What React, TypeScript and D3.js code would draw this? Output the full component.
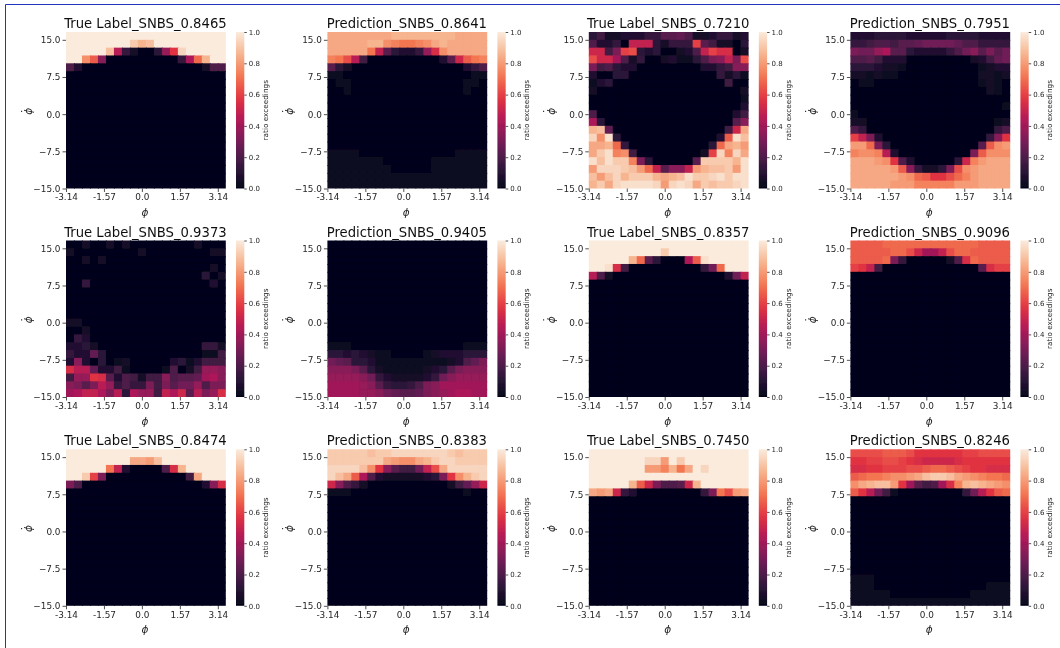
import React, { useRef, useEffect } from 'react';
import * as d3 from 'd3';

// each string is one row of the heatmap (top row first), one character per column,
// base 36: "0" = 0.0 ... "z" = 1.0
const labelA = [
  "zzzzzzzzzzzzzzzzzzzz",
  "zzzzzzzzwuvzzzzzzzzz",
  "zzzzzvg52004dkxzzzzz",
  "zzrnc0000000005fouzz",
  "73000000000000000277",
  "00000000000000000000", "00000000000000000000", "00000000000000000000", "00000000000000000000", "00000000000000000000",
  "00000000000000000000", "00000000000000000000", "00000000000000000000", "00000000000000000000", "00000000000000000000",
  "00000000000000000000", "00000000000000000000", "00000000000000000000", "00000000000000000000", "00000000000000000000",
];
const predA = [
  "ttttttttuuuuuuuutttt",
  "tttttuurqppqrtuttttt",
  "tttttph84335djrttttt",
  "qpmg600000000038inpq",
  "84200000000000000357",
  "11000000000000000011",
  "01100000000000000110",
  "00100000000000000100",
  "00000000000000000000",
  "00000000000000000000",
  "00000000000000000000",
  "00000000000000000000",
  "00000000000000000000",
  "00000000000000000000",
  "00000000000000000000",
  "11110000000000001111",
  "11111110000001111111",
  "11111111000001111111",
  "11111111111111111111",
  "11111111111111111111",
];
const labelB = [
  "46223335588972235523",
  "73350hhh42555l862204",
  "ii6blm43400237hljj02",
  "miie72500231147bchbm",
  "b67433000000003356cc",
  "30044000000000005241",
  "13400000000000000600",
  "20000000000000000002",
  "00000000000000000001",
  "00000000000000000003",
  "70000000000000000036",
  "f400000000000000008c",
  "uv9000000000000006it",
  "xry40000000000003nyv",
  "ttuo500000000004otus",
  "twyqr6000000002lxqxt",
  "yvywwqb4000008wwwwuy",
  "sxxxwvsoh8cchsuvvwsy",
  "vsvxuwwwutuvywwxywyy",
  "uwtxyyyyxsxyxtwvwwxy",
];
const predB = [
  "33344443333344443333",
  "556776889aaaa9775555",
  "baadf884333357ac8b8a",
  "7786333000000002369a",
  "44432210000000001233",
  "22121100000000002212",
  "01100000000000001210",
  "00000000000000000210",
  "00000000000000000000",
  "00000000000000000001",
  "10000000000000000000",
  "22000000000000000012",
  "75000000000000000057",
  "lhb300000000000005ck",
  "ssob4000000000008nrs",
  "qrrqg3000000000bnrrr",
  "tttsrk73000004iqsttt",
  "tttttsnc5224bmrstttt",
  "ttttttsronkkmoqstttt",
  "tttttsssqqqqqssstttt",
];
const labelC = [
  "00200202000000002000",
  "20000000020000000022",
  "00202000000000000000",
  "00000000000000000020",
  "00000000000000000402",
  "00500000000000000030",
  "00000000000000000000",
  "00000000000000000000",
  "00000000000000000000",
  "00000000000000000000",
  "22000000000000000000",
  "00200000000000000000",
  "05300000000000000000",
  "33420000000000000552",
  "53394000000000000116",
  "3c304012000003413666",
  "jgg93361000017026ddc",
  "6ddkj8376266c7889efc",
  "cb8bgd5755b6b8aad7bb",
  "efhhfbg4fdd6hfi8gbdj",
];
const predC = [
  "00000000000000000000",
  "00000000000000000000",
  "00000000000000000000",
  "00000000000000000000",
  "00000000000000000000",
  "00000000000000000000",
  "00000000000000000000",
  "00000000000000000000",
  "00000000000000000000",
  "00000000000000000000",
  "00000000000000000000",
  "00000000000000000000",
  "00000000000000000000",
  "11100000000000000111",
  "44343211000012333444",
  "a984431111111112379b",
  "cccb842111112348bccc",
  "ddddca53222235acdddd",
  "eeeedc854457bceeeeee",
  "eeeeddca9889bcdeffee",
];
const labelD = [
  "zzzzzzzzzzzzzzzzzzzz",
  "zzzzzzzzzwzzzzzzzzzz",
  "zzzzzuo84000fnyzzzzz",
  "zzyj60000000005aozzz",
  "g72000000000000003ah",
  "00000000000000000000", "00000000000000000000", "00000000000000000000", "00000000000000000000", "00000000000000000000",
  "00000000000000000000", "00000000000000000000", "00000000000000000000", "00000000000000000000", "00000000000000000000",
  "00000000000000000000", "00000000000000000000", "00000000000000000000", "00000000000000000000", "00000000000000000000",
];
const predD = [
  "nnnnoooooooooooonnnn",
  "nnnnnoomieehmoonnnnn",
  "nnnnob50000027jonnnn",
  "lkh60000000000008jll",
  "00000000000000000000", "00000000000000000000", "00000000000000000000", "00000000000000000000",
  "00000000000000000000", "00000000000000000000", "00000000000000000000", "00000000000000000000",
  "00000000000000000000", "00000000000000000000", "00000000000000000000", "00000000000000000000",
  "00000000000000000000", "00000000000000000000", "00000000000000000000", "00000000000000000000",
];
const labelE = [
  "zzzzzzzzzzzzzzzzzzzz",
  "zzzzzzzzttsvzzzzzzzz",
  "zzzzzph300007juzzzzz",
  "zzwlb00000000006tzzz",
  "b70000000000000003cj",
  "00000000000000000000", "00000000000000000000", "00000000000000000000", "00000000000000000000", "00000000000000000000",
  "00000000000000000000", "00000000000000000000", "00000000000000000000", "00000000000000000000", "00000000000000000000",
  "00000000000000000000", "00000000000000000000", "00000000000000000000", "00000000000000000000", "00000000000000000000",
];
const predE = [
  "wwwwwvwwxxxxxxxwvwww",
  "wwwwwwwtsrrtuwxxwwww",
  "xxxxvrkc866ahmtxxxxx",
  "xvtnf732222234bkruwx",
  "ic7520000000000269di",
  "11100000000000000100",
  "00000000000000000000", "00000000000000000000", "00000000000000000000", "00000000000000000000",
  "00000000000000000000", "00000000000000000000", "00000000000000000000", "00000000000000000000",
  "00000000000000000000", "00000000000000000000", "00000000000000000000", "00000000000000000000",
  "00000000000000000000", "00000000000000000000",
];
const labelF = [
  "zzzzzzzzzzzzzzzzzzzz",
  "zzzzzzzxxszwzzzzzzzz",
  "zzzzzzzssquptzxzzzzz",
  "zzzzzzzzzzzzzzzzzzzz",
  "zzzzzunib778iuzzzzzz",
  "tsti53000000005bpmst",
  "00000000000000000000", "00000000000000000000", "00000000000000000000", "00000000000000000000",
  "00000000000000000000", "00000000000000000000", "00000000000000000000", "00000000000000000000", "00000000000000000000",
  "00000000000000000000", "00000000000000000000", "00000000000000000000", "00000000000000000000", "00000000000000000000",
];
const predF = [
  "mmmmnnnmkkkkkkllmmmm",
  "kkllmmlkjiiiijkkkkkk",
  "jjkklllmmnoonmlkkjjj",
  "noppqrrstvwwvtsrqppo",
  "rtuvvske867ejquvutsr",
  "nkga61000000005agkno",
  "00000000000000000000", "00000000000000000000", "00000000000000000000", "00000000000000000000",
  "00000000000000000000", "00000000000000000000", "00000000000000000000", "00000000000000000000",
  "00000000000000000000", "00000000000000000000",
  "11100000000000000000",
  "11100000000000000111",
  "11111000000000011111",
  "11111111111111111111",
];

const titles = [
  "True Label_SNBS_0.8465", "Prediction_SNBS_0.8641", "True Label_SNBS_0.7210", "Prediction_SNBS_0.7951",
  "True Label_SNBS_0.9373", "Prediction_SNBS_0.9405", "True Label_SNBS_0.8357", "Prediction_SNBS_0.9096",
  "True Label_SNBS_0.8474", "Prediction_SNBS_0.8383", "True Label_SNBS_0.7450", "Prediction_SNBS_0.8246",
];
const grids = [labelA, predA, labelB, predB, labelC, predC, labelD, predD, labelE, predE, labelF, predF];

const xTicks = [-3.14, -1.57, 0, 1.57, 3.14];
const xTickLabels = ["-3.14", "-1.57", "0.0", "1.57", "3.14"];
const yTicks = [-15, -7.5, 0, 7.5, 15];
const barTicks = [0, 0.2, 0.4, 0.6, 0.8, 1];

// seaborn "rocket"
const rocket = ["#03051a", "#35193e", "#701f57", "#ad1759", "#e13342", "#f37651", "#f6b48f", "#faebdd"];

const colLeft = [66, 327.4, 588.8, 850.4];
const rowTop = [32, 240.5, 449.3];
const panelW = 159.8;
const panelH = 156.5;
const font = "'DejaVu Sans', sans-serif";
const ink = "#262626";

const color = d3.scaleLinear<string>().domain(rocket.map((_, i) => i / (rocket.length - 1))).range(rocket);

const Chart = () => {
  const svgRef = useRef<SVGSVGElement>(null);

  useEffect(() => {
    const svg = d3.select(svgRef.current);
    svg.selectAll("*").remove();

    const defs = svg.append("defs");
    defs.append("filter").attr("id", "soft")
      .attr("x", 0).attr("y", 0).attr("width", 1).attr("height", 1)
      .append("feGaussianBlur").attr("stdDeviation", 0.45);
    const grad = defs.append("linearGradient").attr("id", "rocket")
      .attr("x1", 0).attr("y1", 1).attr("x2", 0).attr("y2", 0);
    grad.selectAll("stop")
      .data(d3.range(0, 1.001, 0.05))
      .join("stop")
      .attr("offset", d => d)
      .attr("stop-color", d => color(d));

    const root = svg.append("g").attr("filter", "url(#soft)");
    root.append("rect").attr("width", 1060).attr("height", 648).attr("fill", "white");
    // page frame from the notebook screenshot
    root.append("path")
      .attr("d", d3.line()([[1060, 4.5], [5.5, 4.5], [5.5, 648]]))
      .attr("fill", "none")
      .attr("stroke", "#2434c0");

    grids.forEach((rows, k) => {
      const left = colLeft[k % 4];
      const top = rowTop[Math.floor(k / 4)];
      const g = root.append("g").attr("transform", `translate(${left},${top})`);

      const colBand = d3.scaleBand<number>().domain(d3.range(20)).range([0, panelW]);
      const rowBand = d3.scaleBand<number>().domain(d3.range(20)).range([0, panelH]);
      // ticks sit on cell edges 0..19 (x) and 20..1 (y), as the original does
      const x = d3.scaleLinear().domain([-3.14, 3.14]).range([0, panelW * 19 / 20]);
      const y = d3.scaleLinear().domain([-15, 15]).range([panelH, panelH / 20]);
      const cbar = d3.scaleLinear().domain([0, 1]).range([panelH, 0]);

      const cells = rows.flatMap((row, r) =>
        row.split("").map((ch, c) => ({ r, c, v: parseInt(ch, 36) / 35 })));
      // 1px overlap under the next cell so no white seams show between cells
      g.selectAll("rect.cell")
        .data(cells)
        .join("rect")
        .attr("class", "cell")
        .attr("x", d => colBand(d.c))
        .attr("y", d => rowBand(d.r))
        .attr("width", d => colBand.bandwidth() + (d.c < 19 ? 1 : 0))
        .attr("height", d => rowBand.bandwidth() + (d.r < 19 ? 1 : 0))
        .attr("fill", d => color(d.v));

      const styleAxis = (a, size) => {
        a.select(".domain").remove();
        a.selectAll("line").attr("stroke", ink).attr("stroke-width", 0.8);
        a.selectAll("text").attr("fill", ink).attr("font-family", font).attr("font-size", size);
      };

      const xAxis = g.append("g").attr("transform", `translate(0,${panelH})`)
        .call(d3.axisBottom(x).tickValues(xTicks).tickFormat((_, i) => xTickLabels[i]).tickSize(3.5).tickPadding(2));
      styleAxis(xAxis, 8.9);

      const yAxis = g.append("g")
        .call(d3.axisLeft(y).tickValues(yTicks).tickFormat(d3.format(".1f")).tickSize(3.5).tickPadding(2));
      styleAxis(yAxis, 8.9);

      g.append("text")
        .attr("x", panelW / 2 - 0.5).attr("y", -4)
        .attr("text-anchor", "middle")
        .attr("font-family", font).attr("font-size", 13.2).attr("fill", "#111")
        .text(titles[k]);

      g.append("text")
        .attr("x", panelW / 2 - 1).attr("y", panelH + 27.5)
        .attr("text-anchor", "middle")
        .attr("font-family", font).attr("font-style", "italic").attr("font-size", 10.5).attr("fill", ink)
        .text("\u03d5");

      // y label: phi with its dot sitting to the left once rotated
      g.append("text")
        .attr("transform", `translate(-34,${panelH / 2 + 1}) rotate(-90)`)
        .attr("text-anchor", "middle")
        .attr("font-family", font).attr("font-style", "italic").attr("font-size", 10.5).attr("fill", ink)
        .text("\u03d5");
      g.append("text")
        .attr("transform", `translate(-37.5,${panelH / 2 + 1}) rotate(-90)`)
        .attr("text-anchor", "middle")
        .attr("font-family", font).attr("font-size", 10.5).attr("fill", ink)
        .text("\u02d9");

      const bar = g.append("g").attr("transform", `translate(${170},0)`);
      bar.append("rect").attr("width", 8.3).attr("height", panelH).attr("fill", "url(#rocket)");
      const barAxis = bar.append("g").attr("transform", "translate(8.3,0)")
        .call(d3.axisRight(cbar).tickValues(barTicks).tickFormat(d3.format(".1f")).tickSize(2.5).tickPadding(2));
      styleAxis(barAxis, 7);

      bar.append("text")
        .attr("transform", `translate(32,${panelH / 2}) rotate(-90)`)
        .attr("text-anchor", "middle")
        .attr("font-family", font).attr("font-size", 7.3).attr("fill", ink)
        .text("ratio exceedings");
    });
  }, []);

  return <svg ref={svgRef} width={1060} height={648} style={{ position: "absolute", left: 0, top: 0 }}></svg>;
};

export default function App() {
  return <Chart />;
}
